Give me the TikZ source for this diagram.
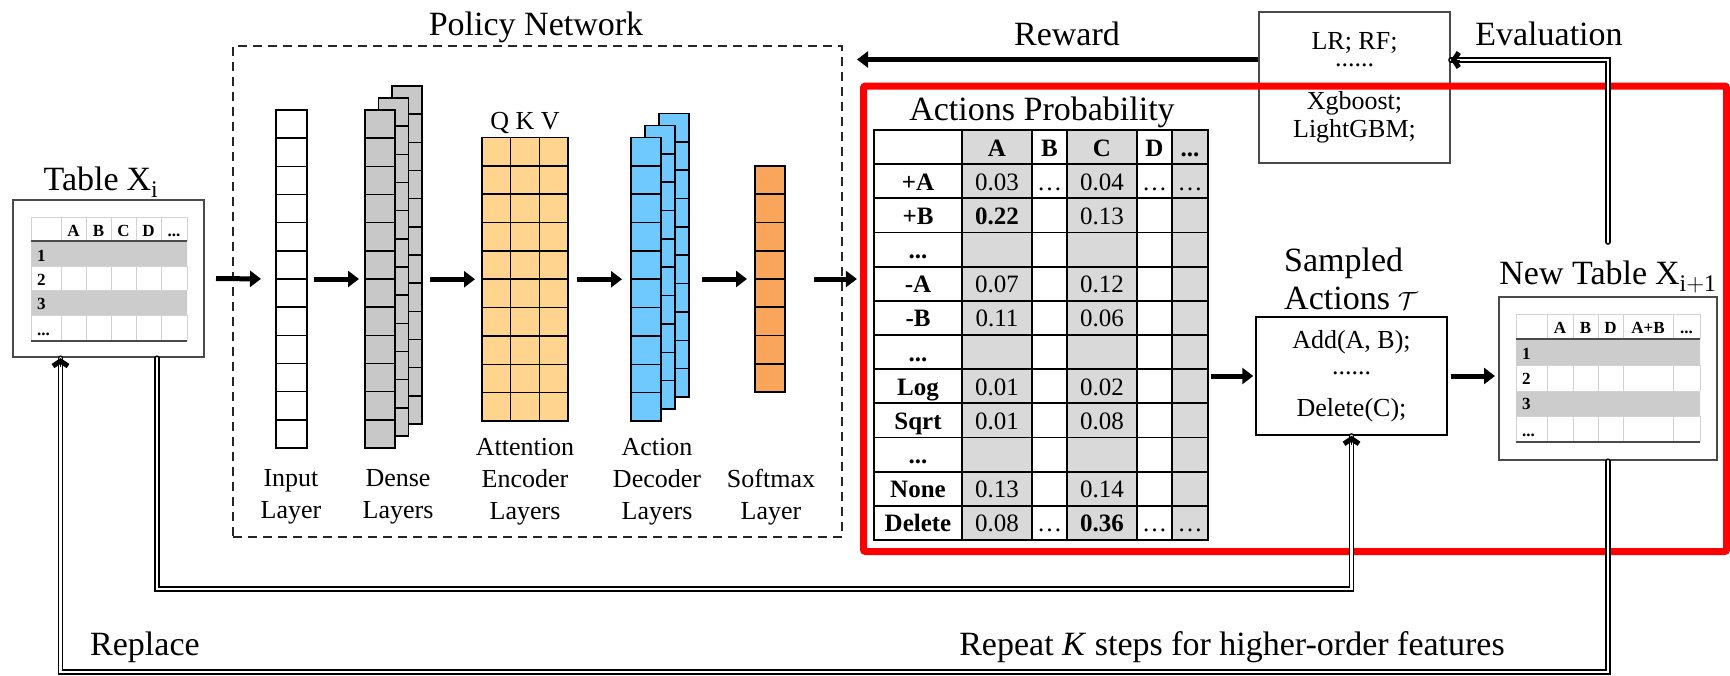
\documentclass[tikz,border=0pt]{standalone}
\usepackage{fontspec}
\setmainfont{Liberation Serif}
\usepackage{amsmath}
\usetikzlibrary{arrows.meta,calc,matrix}

\definecolor{attncol}{HTML}{FFD48E}
\definecolor{deccol}{HTML}{6FC9FF}
\definecolor{softcol}{HTML}{FAA55C}
\definecolor{densecol}{HTML}{C8C8C8}
\definecolor{probcol}{HTML}{D9D9D9}
\definecolor{rowcol}{HTML}{CCCCCC}
\definecolor{gridcol}{HTML}{D2D2D2}
\definecolor{boxcol}{HTML}{4A4A4A}

\newcommand{\tdots}{...}

\begin{document}
\begin{tikzpicture}[x=1pt,y=-1pt,
    fat/.style={line width=5pt,-{Triangle[length=11pt,width=16pt]}},
    dbl/.style={double=white,double distance=2.2pt,line width=1.5pt,line cap=round},
    tiponly/.style={line width=0.4pt,-{Straight Barb[length=5pt,width=15pt,line width=5pt]}},
    layer/.style={draw,line width=1.6pt,inner sep=0pt,outer sep=0pt},
    cell/.style={line width=1.6pt},
    bigtxt/.style={font=\fontsize{34}{38}\selectfont,inner sep=0pt},
    midtxt/.style={font=\fontsize{26}{32}\selectfont,inner sep=0pt},
    boxtxt/.style={font=\fontsize{26}{28}\selectfont,inner sep=0pt,align=center},
    tinytxt/.style={font=\fontsize{17}{20}\selectfont\bfseries,inner sep=0pt,anchor=base},
    tabbox/.style={draw=boxcol,line width=2pt,inner sep=0pt},
    gridline/.style={draw=gridcol,line width=1pt},
    ruleline/.style={draw=boxcol,line width=2pt}]

\useasboundingbox (0,0) rectangle (1730,675);

% policy network
\node[bigtxt,anchor=base] (pntitle) at (536,35) {Policy Network};
\node[draw=black!85,dashed,dash pattern=on 9pt off 6pt,line width=1.8pt,
      minimum width=609pt,minimum height=491pt] (policy) at (537.5,291.5) {};

\node[layer,minimum width=31pt,minimum height=338pt] (inp) at (291.5,279) {};
\foreach \k in {1,...,11}
    \draw[cell] ($(inp.north west)!{\k/12}!(inp.south west)$) -- ($(inp.north east)!{\k/12}!(inp.south east)$);

\foreach \s/\nm in {2/dback,1/dmid,0/dfront} {
    \node[layer,fill=densecol,minimum width=30pt,minimum height=338pt] (\nm) at ({380+13.5*\s},{279-12*\s}) {};
    \foreach \k in {1,...,11}
        \draw[cell] ($(\nm.north west)!{\k/12}!(\nm.south west)$) -- ($(\nm.north east)!{\k/12}!(\nm.south east)$);
}

\node[midtxt,anchor=base] (qkv) at (525,129) {Q K V};
\node[layer,fill=attncol,minimum width=86pt,minimum height=283.5pt] (attn) at (525,279.25) {};
\foreach \k in {1,...,9}
    \draw[cell] ($(attn.north west)!{\k/10}!(attn.south west)$) -- ($(attn.north east)!{\k/10}!(attn.south east)$);
\foreach \k in {1,2}
    \draw[cell] ($(attn.north west)!{\k/3}!(attn.north east)$) -- ($(attn.south west)!{\k/3}!(attn.south east)$);

\foreach \s/\nm in {2/decback,1/decmid,0/decfront} {
    \node[layer,fill=deccol,minimum width=30pt,minimum height=283.5pt] (\nm) at ({646+14*\s},{279.25-12*\s}) {};
    \foreach \k in {1,...,9}
        \draw[cell] ($(\nm.north west)!{\k/10}!(\nm.south west)$) -- ($(\nm.north east)!{\k/10}!(\nm.south east)$);
}

\node[layer,fill=softcol,minimum width=30pt,minimum height=226pt] (soft) at (770,279) {};
\foreach \k in {1,...,7}
    \draw[cell] ($(soft.north west)!{\k/8}!(soft.south west)$) -- ($(soft.north east)!{\k/8}!(soft.south east)$);

\begin{scope}[every node/.style={midtxt,align=center,anchor=north}]
    \node (lbinp)  at (291,469) {Input\\Layer};
    \node (lbdns)  at (398,469) {Dense\\Layers};
    \node (lbattn) at (525,438) {Attention\\Encoder\\Layers};
    \node (lbdec)  at (657,438) {Action\\Decoder\\Layers};
    \node (lbsoft) at (771,469) {Softmax\\Layer};
\end{scope}

% table X_i
\node[bigtxt,anchor=base] (lefttitle) at (101,190) {Table\hspace{8pt}$\mathrm{X_i}$};
\node[tabbox,minimum width=191pt,minimum height=157pt] (lefttab) at (108.5,278.5) {};
\fill[rowcol] (31,241) rectangle (187,266) (31,290) rectangle (187,315);
\draw[gridline] (31,217) -- (187,217) (31,266) -- (187,266) (31,290) -- (187,290) (31,315) -- (187,315);
\foreach \x in {31,61,86,111,136,161,187}
    \draw[gridline] (\x,217) -- (\x,241) (\x,266) -- (\x,290) (\x,315) -- (\x,341);
\draw[ruleline] (31,241) -- (187,241) (31,341) -- (187,341);
\foreach \x/\t [count=\n] in {73.5/A,98.5/B,123.5/C,148.5/D,174/\tdots}
    \node[tinytxt] (lh\n) at (\x,236) {\t};
\foreach \y/\t [count=\n] in {261/1,285/2,309/3,335/\tdots}
    \node[tinytxt,anchor=base west] (lr\n) at (37,\y) {\t};

% actions probability
\node[bigtxt,anchor=base] (probtitle) at (1042,120) {Actions Probability};
\matrix (probs) [matrix of nodes,nodes in empty cells,inner sep=0pt,
    column sep=-1.8pt,row sep=-1.8pt,
    nodes={draw,line width=1.8pt,inner sep=0pt,outer sep=0pt,minimum height=34.17pt,
           text height=21pt,text depth=3pt,anchor=center,font=\fontsize{25}{28}\selectfont},
    column 1/.style={nodes={minimum width=88pt,font=\fontsize{25}{28}\selectfont\bfseries}},
    column 2/.style={nodes={minimum width=70pt,fill=probcol}},
    column 3/.style={nodes={minimum width=35pt}},
    column 4/.style={nodes={minimum width=70pt,fill=probcol}},
    column 5/.style={nodes={minimum width=35pt}},
    column 6/.style={nodes={minimum width=36pt,fill=probcol}},
    row 1/.style={nodes={font=\fontsize{25}{28}\selectfont\bfseries}}]
    at (1041,335) {
          & A             & B     & C             & D     & ...   \\
    +A    & 0.03          & \dots & 0.04          & \dots & \dots \\
    +B    & \textbf{0.22} &       & 0.13          &       &       \\
    ...   &               &       &               &       &       \\
    -A    & 0.07          &       & 0.12          &       &       \\
    -B    & 0.11          &       & 0.06          &       &       \\
    ...   &               &       &               &       &       \\
    Log   & 0.01          &       & 0.02          &       &       \\
    Sqrt  & 0.01          &       & 0.08          &       &       \\
    ...   &               &       &               &       &       \\
    None  & 0.13          &       & 0.14          &       &       \\
    Delete& 0.08          & \dots & \textbf{0.36} & \dots & \dots \\
};

% evaluation models
\node[draw=boxcol,line width=1.5pt,minimum width=191pt,minimum height=151pt,boxtxt] (evalbox)
    at (1354.5,87.5) {LR; RF;\\[-11pt]......\\[15pt]Xgboost;\\LightGBM;};
\node[bigtxt,anchor=base] (rwlabel) at (1067,45) {Reward};
\node[bigtxt,anchor=base] (evlabel) at (1549,45) {Evaluation};

% sampled actions
\node[bigtxt,align=left,anchor=north west] (samptitle) at (1284,248) {Sampled\\Actions\hspace{8pt}$\mathcal{T}$};
\node[draw,line width=1.5pt,minimum width=191pt,minimum height=118pt,boxtxt] (sampled)
    at (1351.5,376) {Add(A, B);\\[-2pt]......\\[14pt]Delete(C);};

% new table
\node[bigtxt,anchor=base] (newtitle) at (1608,284) {New Table\hspace{8pt}$\mathrm{X_{i+1}}$};
\node[tabbox,minimum width=218pt,minimum height=163pt] (newtab) at (1608,378.5) {};
\fill[rowcol] (1516,339) rectangle (1700,365) (1516,391) rectangle (1700,416);
\draw[gridline] (1516,314) -- (1700,314) (1516,365) -- (1700,365) (1516,391) -- (1700,391) (1516,416) -- (1700,416);
\foreach \x in {1516,1547,1573,1598,1623,1673,1700}
    \draw[gridline] (\x,314) -- (\x,339) (\x,365) -- (\x,391) (\x,416) -- (\x,442);
\draw[ruleline] (1516,339) -- (1700,339) (1516,442) -- (1700,442);
\foreach \x/\t [count=\n] in {1560/A,1585.5/B,1610.5/D,1648/A+B,1686.5/\tdots}
    \node[tinytxt] (nh\n) at (\x,333) {\t};
\foreach \y/\t [count=\n] in {359/1,384.5/2,409/3,436/\tdots}
    \node[tinytxt,anchor=base west] (nr\n) at (1522,\y) {\t};

% highlight
\draw[red,line width=7pt,rounded corners=2pt] (863.5,86) rectangle (1726.5,551.5);

% flow
\draw[fat,shorten <=11pt,shorten >=15pt] (lefttab.east) -- (inp.west);
\draw[fat,shorten <=7pt,shorten >=6pt] (inp.east) -- (dfront.west);
\draw[fat,shorten <=8pt,shorten >=7pt] (dback.east |- attn.west) -- (attn.west);
\draw[fat,shorten <=9pt,shorten >=9pt] (attn.east) -- (decfront.west);
\draw[fat,shorten <=13pt,shorten >=8pt] (decback.east |- soft.west) -- (soft.west);
\draw[fat,shorten <=29pt,shorten >=16pt] (soft.east) -- (probs.west |- soft.east);
\draw[fat,shorten <=2pt,shorten >=2pt] (probs.east |- sampled.west) -- (sampled.west);
\draw[fat,shorten <=3pt,shorten >=3pt] (sampled.east) -- (newtab.west |- sampled.east);

\coordinate (rwend) at (857,59.5);
\draw[fat] (evalbox.west |- rwend) -- (rwend);

% loops
\coordinate (outerlow) at (0,672);
\coordinate (innerlow) at (0,589);
\draw[dbl] ([yshift=18pt]newtitle.north) |- ([yshift=27.5pt]evalbox.east);
\draw[dbl] ([xshift=48.5pt]lefttab.south) |- (innerlow -| sampled.south) -- (sampled.south);
\draw[dbl] (newtab.south) -- (newtab.south |- outerlow) -| ([xshift=-48pt]lefttab.south);
\draw[tiponly] ([xshift=9pt,yshift=27.5pt]evalbox.east) -- ([yshift=27.5pt]evalbox.east);
\draw[tiponly] ([yshift=-9pt]sampled.south) -- (sampled.south);
\draw[tiponly] ([xshift=-48pt,yshift=-9pt]lefttab.south) -- ([xshift=-48pt]lefttab.south);

\node[bigtxt,anchor=base west] (replace) at (90,655) {Replace};
\node[bigtxt,anchor=base east] (repeat) at (1505,655) {Repeat \textit{K} steps for higher-order features};

\end{tikzpicture}
\end{document}
